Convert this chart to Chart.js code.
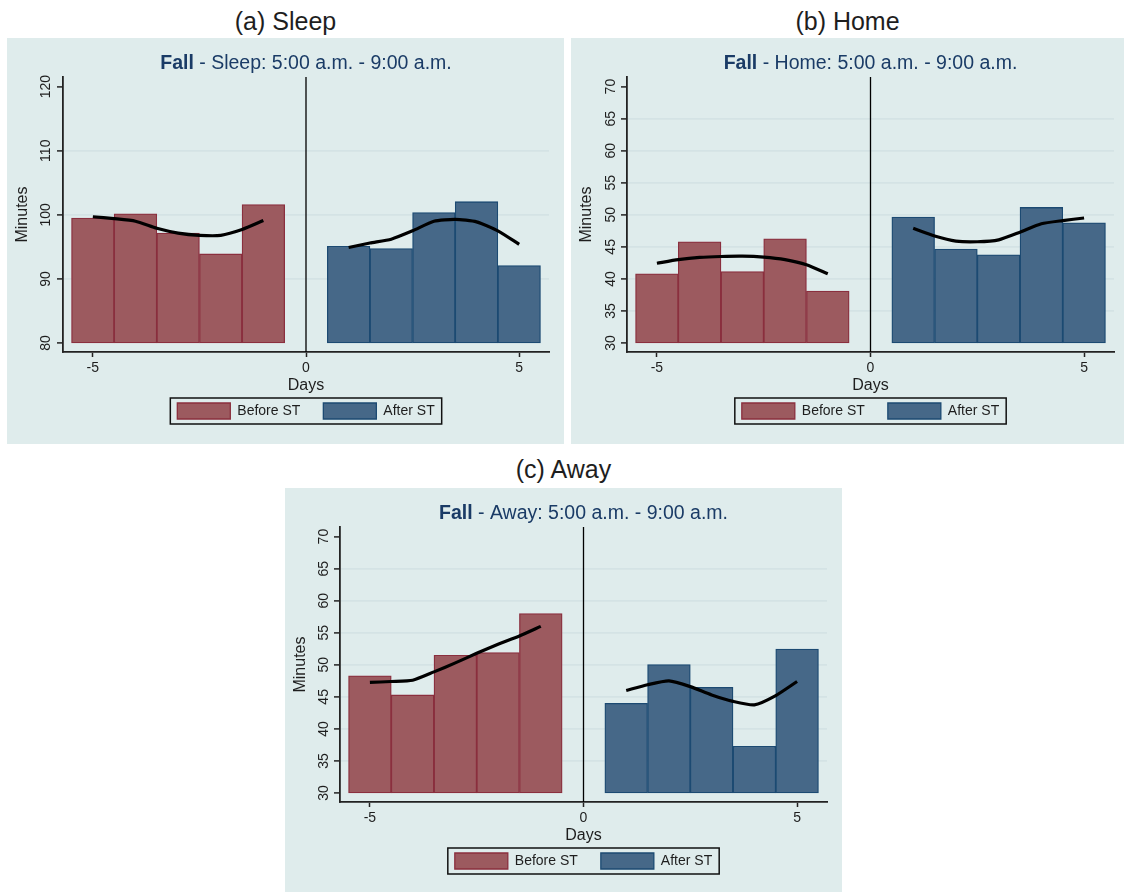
<!DOCTYPE html>
<html>
<head>
<meta charset="utf-8">
<script src="https://cdn.jsdelivr.net/npm/chart.js@4.4.1/dist/chart.umd.min.js"></script>
<style>
    body { margin: 0; background: #fff; width: 1124px; height: 892px; position: relative; overflow: hidden; font-family: "Liberation Sans", Arial, sans-serif; }
    .head { position: absolute; font-size: 25px; line-height: 30px; color: #1e1e1e; text-align: center; }
    .panel { position: absolute; background: #dfecec; }
    .panel canvas { position: absolute; left: 0; top: 0; }
</style>
</head>
<body>
<div class="head" style="left:7px;top:6px;width:557px">(a) Sleep</div>
<div class="head" style="left:571px;top:6px;width:553px">(b) Home</div>
<div class="head" style="left:285px;top:454px;width:557px">(c) Away</div>

<div class="panel" style="left:7px;top:38px;width:557px;height:406px"><canvas id="sleepChart"></canvas></div>
<div class="panel" style="left:571px;top:38px;width:553px;height:406px"><canvas id="homeChart"></canvas></div>
<div class="panel" style="left:285px;top:488px;width:557px;height:404px"><canvas id="awayChart"></canvas></div>

<script>
const beforeDays = [-5, -4, -3, -2, -1];
const afterDays = [1, 2, 3, 4, 5];
const fitBeforeDays = [-5, -4.5, -4, -3.5, -3, -2.5, -2, -1.5, -1];
const fitAfterDays = [1, 1.5, 2, 2.5, 3, 3.5, 4, 4.5, 5];
const xTicks = [-5, 0, 5];

const sleepBefore = [99.5, 100.15, 97.15, 93.9, 101.6];
const sleepAfter = [95.1, 94.75, 100.35, 102.05, 92.1];
const sleepFitBefore = [99.7, 99.4, 99.0, 97.9, 97.15, 96.8, 96.8, 97.7, 99.1];
const sleepFitAfter = [94.9, 95.6, 96.2, 97.5, 99.0, 99.3, 98.9, 97.5, 95.4];
const sleepTicks = [80, 90, 100, 110, 120];

const homeBefore = [40.8, 45.8, 41.15, 46.25, 38.1];
const homeAfter = [49.65, 44.65, 43.75, 51.15, 48.75];
const homeFitBefore = [42.45, 43.0, 43.35, 43.5, 43.55, 43.4, 43.0, 42.2, 40.8];
const homeFitAfter = [47.9, 46.7, 45.9, 45.8, 46.1, 47.3, 48.6, 49.1, 49.5];
const homeTicks = [30, 35, 40, 45, 50, 55, 60, 65, 70];

const awayBefore = [48.3, 45.3, 51.5, 51.9, 58.0];
const awayAfter = [44.0, 50.05, 46.5, 37.3, 52.45];
const awayFitBefore = [47.25, 47.4, 47.6, 48.9, 50.3, 51.8, 53.2, 54.5, 56.0];
const awayFitAfter = [46.0, 46.9, 47.5, 46.6, 45.3, 44.3, 43.75, 45.2, 47.4];
const awayTicks = [30, 35, 40, 45, 50, 55, 60, 65, 70];

const FONT = '"Liberation Sans", Arial, sans-serif';
const NAVY = '#1a3b66';

const subtitlePlugin = {
    id: 'subtitleText',
    afterDraw(chart, args, opts) {
        const { ctx, chartArea } = chart;
        const cx = (chartArea.left + chartArea.right) / 2;
        const boldFont = 'bold ' + opts.size + 'px ' + FONT;
        const normFont = opts.size + 'px ' + FONT;
        ctx.save();
        ctx.font = boldFont;
        const w1 = ctx.measureText(opts.bold).width;
        ctx.font = normFont;
        const w2 = ctx.measureText(opts.rest).width;
        const x = cx - (w1 + w2) / 2;
        ctx.fillStyle = NAVY;
        ctx.textBaseline = 'middle';
        ctx.textAlign = 'left';
        ctx.font = boldFont;
        ctx.fillText(opts.bold, x, opts.y);
        ctx.font = normFont;
        ctx.fillText(opts.rest, x + w1, opts.y);
        ctx.restore();
    },
};

const legendBoxPlugin = {
    id: 'legendBox',
    afterDraw(chart) {
        const boxes = chart.legend && chart.legend.legendHitBoxes;
        if (!boxes || !boxes.length) return;
        const first = boxes[0];
        const last = boxes[boxes.length - 1];
        const { ctx } = chart;
        ctx.save();
        ctx.strokeStyle = '#111';
        ctx.lineWidth = 1.5;
        ctx.strokeRect(first.left - 7, first.top - 5, last.left + last.width + 7 - (first.left - 7), 26);
        ctx.restore();
    },
};

const makeChart = (canvasId, o) => {
    const canvas = document.getElementById(canvasId);
    const ticks = o.ticks;
    new Chart(canvas.getContext('2d'), {
        type: 'bar',
        data: {
            datasets: [
                {
                    type: 'line',
                    label: 'fitBefore',
                    data: fitBeforeDays.map((d, i) => ({ x: d, y: o.fitBefore[i] })),
                    borderColor: '#000',
                    borderWidth: 3.2,
                    pointRadius: 0,
                    tension: 0.2,
                    order: 0,
                },
                {
                    type: 'line',
                    label: 'fitAfter',
                    data: fitAfterDays.map((d, i) => ({ x: d, y: o.fitAfter[i] })),
                    borderColor: '#000',
                    borderWidth: 3.2,
                    pointRadius: 0,
                    tension: 0.2,
                    order: 0,
                },
                {
                    type: 'line',
                    label: 'zero',
                    data: [{ x: 0, y: o.yMin }, { x: 0, y: o.yMax }],
                    borderColor: '#000',
                    borderWidth: 1.3,
                    pointRadius: 0,
                    order: 0,
                },
                {
                    label: 'Before ST',
                    data: beforeDays.map((d, i) => ({ x: d, y: [ticks[0], o.before[i]] })),
                    backgroundColor: '#9c5a5f',
                    borderColor: '#8a2f3e',
                    borderWidth: 1.3,
                    borderSkipped: false,
                    grouped: false,
                    barPercentage: 1,
                    categoryPercentage: 1,
                    order: 1,
                },
                {
                    label: 'After ST',
                    data: afterDays.map((d, i) => ({ x: d, y: [ticks[0], o.after[i]] })),
                    backgroundColor: '#466888',
                    borderColor: '#1c4a72',
                    borderWidth: 1.3,
                    borderSkipped: false,
                    grouped: false,
                    barPercentage: 1,
                    categoryPercentage: 1,
                    order: 1,
                },
            ],
        },
        options: {
            responsive: true,
            maintainAspectRatio: false,
            animation: false,
            events: [],
            layout: {
                padding: { top: 39, right: o.padRight, bottom: o.padBottom, left: 0 },
            },
            scales: {
                x: {
                    type: 'linear',
                    min: -5.7,
                    max: 5.7,
                    offset: false,
                    afterBuildTicks(scale) {
                        scale.ticks = xTicks.map((v) => ({ value: v }));
                    },
                    afterFit(scale) {
                        scale.height = 28;
                    },
                    grid: {
                        offset: false,
                        drawOnChartArea: false,
                        tickLength: 5,
                        tickColor: '#222',
                        tickWidth: 1.5,
                    },
                    border: { color: '#222', width: 1.8 },
                    ticks: {
                        padding: 3,
                        color: '#1e1e1e',
                        font: { family: FONT, size: 14 },
                    },
                    title: {
                        display: true,
                        text: 'Days',
                        color: '#1e1e1e',
                        font: { family: FONT, size: 16, lineHeight: 1.2 },
                        padding: { top: 0, bottom: -15.5 },
                    },
                },
                y: {
                    min: o.yMin,
                    max: o.yMax,
                    afterBuildTicks(scale) {
                        scale.ticks = ticks.map((v) => ({ value: v }));
                    },
                    afterFit(scale) {
                        scale.width = o.axisWidth;
                    },
                    grid: {
                        color: (ctx) => (ctx.tick && (ctx.tick.value === ticks[0] || ctx.tick.value === ticks[ticks.length - 1]) ? 'rgba(0,0,0,0)' : '#d4e3e5'),
                        lineWidth: 1.8,
                        tickLength: 6,
                        tickColor: '#222',
                        tickWidth: 1.5,
                    },
                    border: { color: '#222', width: 1.8 },
                    ticks: {
                        minRotation: 90,
                        maxRotation: 90,
                        crossAlign: 'center',
                        padding: o.tickPad,
                        color: '#1e1e1e',
                        font: { family: FONT, size: 14 },
                    },
                    title: {
                        display: true,
                        text: 'Minutes',
                        color: '#1e1e1e',
                        font: { family: FONT, size: 16, lineHeight: 1.2 },
                        padding: { top: 5.5, bottom: 0 },
                    },
                },
            },
            plugins: {
                legend: {
                    position: 'bottom',
                    fullSize: false,
                    labels: {
                        filter: (item) => item.text === 'Before ST' || item.text === 'After ST',
                        boxWidth: 53,
                        boxHeight: 16,
                        padding: 23,
                        color: '#1e1e1e',
                        font: { family: FONT, size: 14 },
                    },
                },
                tooltip: { enabled: false },
                subtitleText: { bold: 'Fall', rest: o.subtitle, size: 19.5, y: 26 },
            },
        },
        plugins: [subtitlePlugin, legendBoxPlugin],
    });
};

makeChart('sleepChart', {
    before: sleepBefore, after: sleepAfter, fitBefore: sleepFitBefore, fitAfter: sleepFitAfter,
    ticks: sleepTicks, yMin: 78.6, yMax: 121.5, subtitle: ' - Sleep: 5:00 a.m. - 9:00 a.m.',
    axisWidth: 56, padRight: 15, padBottom: 15, tickPad: -1,
});
makeChart('homeChart', {
    before: homeBefore, after: homeAfter, fitBefore: homeFitBefore, fitAfter: homeFitAfter,
    ticks: homeTicks, yMin: 28.6, yMax: 71.5, subtitle: ' - Home: 5:00 a.m. - 9:00 a.m.',
    axisWidth: 56, padRight: 10, padBottom: 15, tickPad: 2.5,
});
makeChart('awayChart', {
    before: awayBefore, after: awayAfter, fitBefore: awayFitBefore, fitAfter: awayFitAfter,
    ticks: awayTicks, yMin: 28.6, yMax: 71.5, subtitle: ' - Away: 5:00 a.m. - 9:00 a.m.',
    axisWidth: 55, padRight: 15, padBottom: 13, tickPad: 2.5,
});
</script>
</body>
</html>
